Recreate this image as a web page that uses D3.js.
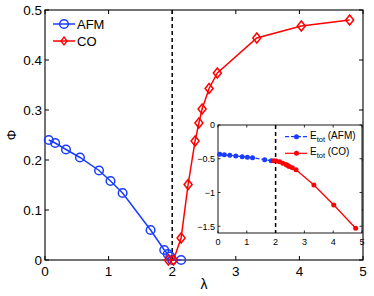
<!DOCTYPE html>
<html><head><meta charset="utf-8">
<script src="https://cdn.jsdelivr.net/npm/d3@7"></script>
<style>body{margin:0;background:#fff}svg{display:block}text{font-family:"Liberation Sans",Arial,sans-serif}</style>
</head><body><div id="c"></div>
<script>
// Main panel data
const afmLambda = [0.06,0.16,0.33,0.55,0.85,1.03,1.22,1.66,1.875,1.93,1.97,2.0,2.14];
const afmPhi    = [0.240,0.234,0.221,0.205,0.179,0.158,0.134,0.060,0.020,0.012,0.007,0.0,0.0];
const coLambda  = [1.94,2.02,2.14,2.25,2.36,2.42,2.47,2.58,2.71,3.33,4.03,4.79];
const coPhi     = [0.0,0.0,0.044,0.151,0.238,0.274,0.302,0.343,0.374,0.444,0.468,0.480];
const criticalLambda = 2;
const mainXTicks = [0,1,2,3,4,5];
const mainYTicks = [0,0.1,0.2,0.3,0.4,0.5];
// Inset data
const insetAfmLambda = [0.06,0.22,0.41,0.62,0.84,1.02,1.2,1.62,1.85];
const insetAfmE      = [-0.434,-0.44,-0.449,-0.459,-0.47,-0.478,-0.484,-0.514,-0.529];
const insetCoLambda  = [1.94,2.02,2.14,2.25,2.36,2.42,2.47,2.58,2.71,3.33,4.02,4.78];
const insetCoE       = [-0.53,-0.535,-0.545,-0.565,-0.585,-0.60,-0.615,-0.635,-0.662,-0.889,-1.185,-1.53];
const insetXTicks = [0,1,2,3,4,5];
const insetYTicks = [0,-0.5,-1,-1.5];
const insetYLabels = ["0","−0.5","−1","−1.5"];

const W=374,H=296;
const svg=d3.select("#c").append("svg").attr("width",W).attr("height",H);
const blue="#1a3cff", red="#ff0000";

const x=d3.scaleLinear().domain([0,5]).range([45,363]);
const y=d3.scaleLinear().domain([0,0.5]).range([260,10]);

// main axes ticks (inward, all sides)
const tl=4;
const g=svg.append("g");
mainXTicks.forEach(t=>{
  g.append("line").attr("x1",x(t)).attr("x2",x(t)).attr("y1",y(0)).attr("y2",y(0)-tl).attr("stroke","#000");
  g.append("line").attr("x1",x(t)).attr("x2",x(t)).attr("y1",y(0.5)).attr("y2",y(0.5)+tl).attr("stroke","#000");
  g.append("text").attr("x",x(t)).attr("y",y(0)+16).attr("text-anchor","middle").attr("font-size",13.5).text(t);
});
mainYTicks.forEach(t=>{
  g.append("line").attr("x1",x(0)).attr("x2",x(0)+tl).attr("y1",y(t)).attr("y2",y(t)).attr("stroke","#000");
  g.append("line").attr("x1",x(5)).attr("x2",x(5)-tl).attr("y1",y(t)).attr("y2",y(t)).attr("stroke","#000");
  g.append("text").attr("x",x(0)-3).attr("y",y(t)+5).attr("text-anchor","end").attr("font-size",13.5).text(d3.format("")(t));
});
g.append("rect").attr("x",x(0)).attr("y",y(0.5)).attr("width",x(5)-x(0)).attr("height",y(0)-y(0.5))
  .attr("fill","none").attr("stroke","#000").attr("stroke-width",1.1);

// axis labels
svg.append("text").attr("transform",`translate(16,${(y(0)+y(0.5))/2}) rotate(-90)`).attr("text-anchor","middle").attr("font-size",13).text("Φ");
svg.append("text").attr("x",(x(0)+x(5))/2).attr("y",289).attr("text-anchor","middle").attr("font-size",14).text("λ");

// dashed critical line
svg.append("line").attr("x1",x(criticalLambda)).attr("x2",x(criticalLambda)).attr("y1",y(0.5)).attr("y2",y(0))
  .attr("stroke","#000").attr("stroke-width",1.5).attr("stroke-dasharray","4,3");

const line=d3.line().x(d=>x(d[0])).y(d=>y(d[1]));
const afm=afmLambda.map((l,i)=>[l,afmPhi[i]]);
const co=coLambda.map((l,i)=>[l,coPhi[i]]);
svg.append("path").attr("d",line(afm)).attr("fill","none").attr("stroke",blue).attr("stroke-width",1.5);
svg.selectAll(".afm").data(afm).enter().append("circle").attr("cx",d=>x(d[0])).attr("cy",d=>y(d[1])).attr("r",4.3)
  .attr("fill","none").attr("stroke",blue).attr("stroke-width",1.5);
svg.append("path").attr("d",line(co)).attr("fill","none").attr("stroke",red).attr("stroke-width",1.5);
const dia=(cx,cy,w,h)=>`M${cx},${cy-h}L${cx+w},${cy}L${cx},${cy+h}L${cx-w},${cy}Z`;
svg.selectAll(".co").data(co).enter().append("path").attr("d",d=>dia(x(d[0]),y(d[1]),4,5))
  .attr("fill","none").attr("stroke",red).attr("stroke-width",1.5);

// main legend
const lg=svg.append("g");
[[24,blue,"AFM","c"],[41,red,"CO","d"]].forEach(([ly,c,t,m])=>{
  lg.append("line").attr("x1",53).attr("x2",75).attr("y1",ly).attr("y2",ly).attr("stroke",c).attr("stroke-width",1.5);
  if(m==="c") lg.append("circle").attr("cx",64).attr("cy",ly).attr("r",4.3).attr("fill","none").attr("stroke",c).attr("stroke-width",1.5);
  else lg.append("path").attr("d",dia(64,ly,3,4)).attr("fill","none").attr("stroke",c).attr("stroke-width",1.3);
  lg.append("text").attr("x",77).attr("y",ly+4.7).attr("font-size",13).text(t);
});

// inset
const ix=d3.scaleLinear().domain([0,5]).range([218,362]);
const iy=d3.scaleLinear().domain([-1.6,0]).range([233,125]);
const ig=svg.append("g");
ig.append("rect").attr("x",ix(0)).attr("y",iy(0)).attr("width",ix(5)-ix(0)).attr("height",iy(-1.6)-iy(0)).attr("fill","#fff");
const itl=2.5;
insetXTicks.forEach(t=>{
  ig.append("line").attr("x1",ix(t)).attr("x2",ix(t)).attr("y1",iy(-1.6)).attr("y2",iy(-1.6)-itl).attr("stroke","#000").attr("stroke-width",0.8);
  ig.append("line").attr("x1",ix(t)).attr("x2",ix(t)).attr("y1",iy(0)).attr("y2",iy(0)+itl).attr("stroke","#000").attr("stroke-width",0.8);
  ig.append("text").attr("x",ix(t)).attr("y",iy(-1.6)+11.5).attr("text-anchor","middle").attr("font-size",9).text(t);
});
insetYTicks.forEach((t,i)=>{
  ig.append("line").attr("x1",ix(0)).attr("x2",ix(0)+itl).attr("y1",iy(t)).attr("y2",iy(t)).attr("stroke","#000").attr("stroke-width",0.8);
  ig.append("line").attr("x1",ix(5)).attr("x2",ix(5)-itl).attr("y1",iy(t)).attr("y2",iy(t)).attr("stroke","#000").attr("stroke-width",0.8);
  ig.append("text").attr("x",ix(0)-3).attr("y",iy(t)+3.3).attr("text-anchor","end").attr("font-size",9).text(insetYLabels[i]);
});
ig.append("rect").attr("x",ix(0)).attr("y",iy(0)).attr("width",ix(5)-ix(0)).attr("height",iy(-1.6)-iy(0))
  .attr("fill","none").attr("stroke","#000").attr("stroke-width",0.9);
ig.append("line").attr("x1",ix(criticalLambda)).attr("x2",ix(criticalLambda)).attr("y1",iy(0)).attr("y2",iy(-1.6))
  .attr("stroke","#000").attr("stroke-width",1.5).attr("stroke-dasharray","4,3");
const iline=d3.line().x(d=>ix(d[0])).y(d=>iy(d[1]));
const iafm=insetAfmLambda.map((l,i)=>[l,insetAfmE[i]]);
const ico=insetCoLambda.map((l,i)=>[l,insetCoE[i]]);
ig.append("path").attr("d",iline(iafm)).attr("fill","none").attr("stroke",blue).attr("stroke-width",1.2).attr("stroke-dasharray","4,2");
ig.selectAll(".ia").data(iafm).enter().append("circle").attr("cx",d=>ix(d[0])).attr("cy",d=>iy(d[1])).attr("r",2.5).attr("fill",blue);
ig.append("path").attr("d",iline(ico)).attr("fill","none").attr("stroke",red).attr("stroke-width",1.3);
ig.selectAll(".ic").data(ico).enter().append("circle").attr("cx",d=>ix(d[0])).attr("cy",d=>iy(d[1])).attr("r",2.5).attr("fill",red);

// inset legend
[[136.7,blue,"(AFM)",true],[153.3,red,"(CO)",false]].forEach(([ly,c,t,dash])=>{
  const l=ig.append("line").attr("x1",285).attr("x2",307).attr("y1",ly).attr("y2",ly).attr("stroke",c).attr("stroke-width",1.2);
  if(dash) l.attr("stroke-dasharray","4,2");
  ig.append("circle").attr("cx",296.5).attr("cy",ly).attr("r",2.5).attr("fill",c);
  const tx=ig.append("text").attr("x",310).attr("y",ly+2).attr("font-size",10);
  tx.append("tspan").text("E");
  tx.append("tspan").attr("font-size",7.5).attr("dy",3).text("tot");
  tx.append("tspan").attr("dy",-3).text(" "+t);
});
</script></body></html>
